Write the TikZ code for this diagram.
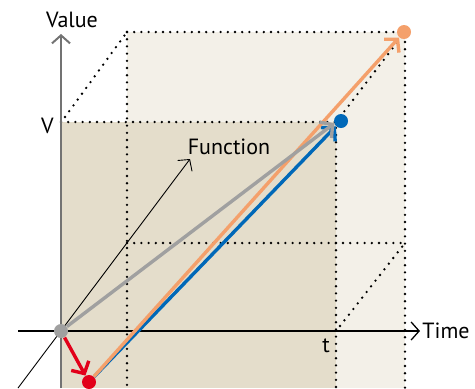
\documentclass[tikz,border=0pt]{standalone}
\usepackage{fontspec}
\setmainfont{PT Sans}
\usetikzlibrary{arrows.meta,calc}
\definecolor{frontbg}{HTML}{E4DDCB}
\definecolor{backbg}{HTML}{F3F0E8}
\definecolor{vecgray}{HTML}{A0A0A0}
\definecolor{vecorange}{HTML}{F4A06B}
\definecolor{vecblue}{HTML}{0068B8}
\definecolor{vecred}{HTML}{E2001A}
\tikzset{
  dotline/.style={line width=1.3pt, line cap=round, dash pattern=on 0pt off 3.6pt},
  dot/.style={circle, inner sep=0pt, minimum size=7pt},
  vec/.style={line width=1.7pt, -{Straight Barb[length=4.5pt,width=10pt]}},
  axis/.style={-{Straight Barb[length=4pt,width=9pt]}},
  lbl/.style={font=\fontsize{11}{13}\selectfont, inner sep=1pt}
}

\begin{document}
\begin{tikzpicture}[x=0.5pt,y=-0.5pt]
    \useasboundingbox (0,0) rectangle (475,388);

    % back and front faces
    \fill[backbg] (127,32) rectangle (405,388);
    \fill[frontbg] (61,122) rectangle (336,388);

    % corners of the box
    \coordinate (O) at (61,331);
    \coordinate (V) at (61,122);
    \coordinate (T) at (336,331);
    \coordinate (VT) at (336,122);
    \coordinate (bV) at (127,32);
    \coordinate (bO) at (127,243);
    \coordinate (bT) at (405,243);
    \coordinate (bVT) at (405,32);

    % dotted edges
    \draw[dotline] (V) -- (VT) -- (336,388);
    \draw[dotline] (bV) -- (bVT) -- (405,388);
    \draw[dotline] (bV) -- (127,388);
    \draw[dotline] (bO) -- (bT);
    \draw[dotline] ($(V)+(4,-5)$) -- (bV);
    \draw[dotline] ($(VT)+(4,-5)$) -- (bVT);
    \draw[dotline] ($(T)+(4,-5)$) -- (bT);

    % axes
    \coordinate (vbot) at (61,388);
    \coordinate (vtop) at (61,34);
    \coordinate (tleft) at (18,331);
    \coordinate (tright) at (420,331);
    \coordinate (fbot) at (18,388);
    \coordinate (ftop) at (190,159);
    \draw[axis, black!55, line width=1pt] (vbot) -- (vtop);
    \draw[axis, line width=0.65pt] (tleft) -- (tright);
    \draw[axis, line width=0.45pt] (fbot) -- (ftop);

    \node[lbl] (value) at (72,20) {Value};
    \node[lbl, right] (time) at (tright) {Time};
    \node[lbl] (func) at (229,147) {Function};
    \node[lbl, left] (vlab) at (56,126) {V};
    \node[lbl] (tlab) at (326,346) {t};

    % points
    \node[dot, fill=vecgray] (g) at (O) {};
    \node[dot, fill=vecred] (r) at (89,382) {};
    \node[dot, fill=vecblue] (b) at (341,121) {};
    \node[dot, fill=vecorange] (o) at (404,32) {};

    % vectors
    \draw[vec, vecblue] (r) -- (b);
    \draw[vec, vecorange] (r) -- (o);
    \draw[vec, vecgray, shorten >=1pt] (g) -- (VT);
    \draw[vec, vecred] (g) -- (r);
\end{tikzpicture}
\end{document}
